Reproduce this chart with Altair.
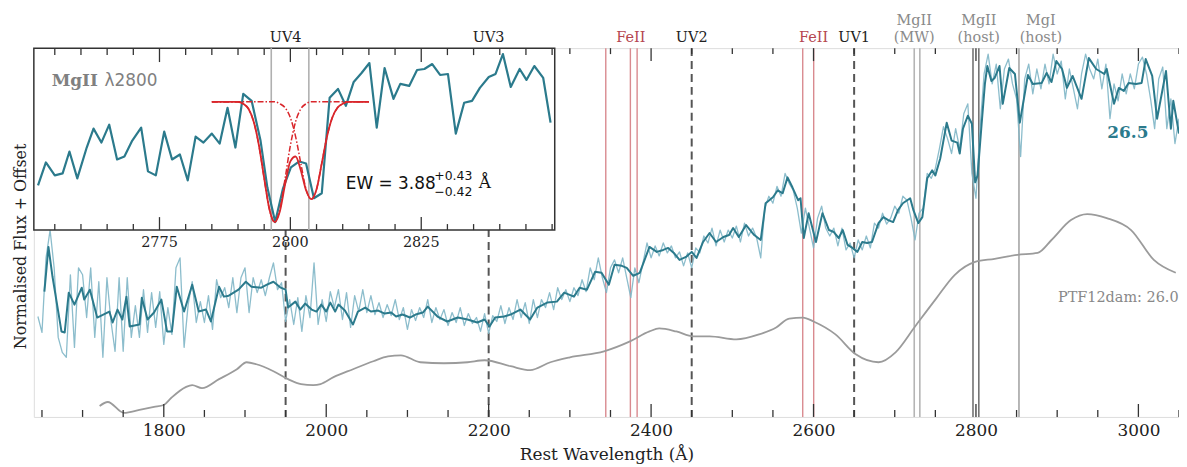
import altair as alt
import pandas as pd

SERIF = "DejaVu Serif"
SANS = "DejaVu Sans"
TEAL = "#2b7a8c"
TEAL_LIGHT = "#80b6c6"
GREY_CURVE = "#9b9b9b"
FRAME = "#333333"
FE_LINE = "#d98a8f"
FE_TEXT = "#b5464f"
MG_TEXT = "#8a8a8a"
FIT_RED = "#d9262b"

# ---------------- data: main spectrum ----------------
raw_start = 1645
raw_step = 5
raw_flux = [
    101, 85, 160, 188, 150, 80, 65, 60, 143, 70,
    150, 143, 100, 150, 80, 136, 60, 140, 96, 66,
    140, 66, 140, 80, 112, 80, 128, 85, 125, 90,
    126, 73, 110, 83, 150, 160, 70, 113, 136, 95,
    116, 95, 122, 88, 138, 120, 130, 110, 140, 105,
    140, 150, 105, 140, 125, 138, 122, 140, 155, 128,
    135, 96, 118, 93, 120, 86, 122, 100, 155, 93,
    118, 96, 126, 110, 128, 98, 125, 90, 122, 106,
    128, 105, 122, 103, 115, 100, 113, 102, 118, 98,
    110, 88, 108, 97, 110, 100, 118, 95, 110, 98,
    108, 92, 105, 95, 110, 92, 104, 94, 100, 86,
    104, 84, 102, 96, 112, 94, 110, 98, 118, 100,
    115, 94, 118, 100, 118, 110, 125, 108, 130, 118,
    128, 116, 130, 122, 138, 126, 150, 138, 160, 140,
    125, 150, 158, 145, 160, 140, 120, 150, 135, 155,
    175, 160, 172, 162, 175, 165, 172, 160, 166, 152,
    165, 150, 170, 165, 182, 175, 190, 172, 188, 176,
    188, 180, 192, 176, 195, 182, 190, 180, 160, 210,
    222, 215, 232, 222, 245, 235, 228, 210, 185, 210,
    190, 170, 200, 212, 190, 182, 190, 172, 190, 168,
    175, 160, 178, 168, 182, 170, 195, 190, 205, 194,
    200, 212, 205, 222, 218, 200, 178, 205, 210, 245,
    240, 250, 270, 292, 280, 265, 290, 270, 305, 315,
    245, 220, 290, 345, 365, 335, 355, 310, 350, 360,
    335, 320, 262, 340, 355, 325, 350, 330, 355, 335,
    365, 345, 358, 320, 350, 330, 310, 345, 365, 350,
    340, 360, 330, 355, 300, 335, 318, 345, 325, 345,
    330, 355, 362, 345, 320, 290, 340, 352, 290, 320, 275, 300,
]

binned_points = [
    (1653, 126), (1658, 171), (1663, 141), (1674, 86), (1678, 85), (1683, 125), (1690, 113),
    (1699, 130), (1702, 118), (1709, 128), (1718, 100), (1733, 106), (1737, 95), (1743, 108),
    (1749, 98), (1754, 121), (1758, 91), (1770, 93), (1773, 120), (1780, 98), (1788, 105),
    (1797, 118), (1804, 86), (1810, 86), (1816, 131), (1825, 106), (1835, 133), (1843, 106),
    (1852, 108), (1858, 96), (1868, 131), (1874, 121), (1880, 122), (1892, 128), (1901, 136),
    (1908, 131), (1920, 130), (1927, 133), (1935, 136), (1944, 130), (1950, 128), (1953, 110),
    (1962, 116), (1968, 108), (1974, 114), (1982, 108), (1988, 106), (1994, 113), (2000, 106),
    (2005, 115), (2011, 106), (2015, 113), (2023, 107), (2033, 93), (2039, 106), (2048, 110),
    (2055, 106), (2064, 107), (2072, 104), (2080, 105), (2086, 101), (2094, 103), (2103, 100),
    (2110, 103), (2119, 105), (2125, 111), (2137, 101), (2149, 96), (2162, 100), (2174, 98),
    (2186, 95), (2195, 98), (2201, 91), (2208, 100), (2219, 101), (2227, 103), (2239, 108),
    (2251, 98), (2260, 110), (2272, 115), (2284, 116), (2293, 125), (2305, 121), (2312, 130),
    (2321, 128), (2331, 146), (2339, 145), (2348, 133), (2355, 153), (2364, 152), (2370, 150),
    (2378, 142), (2386, 145), (2398, 171), (2407, 166), (2415, 168), (2421, 170), (2428, 165),
    (2435, 158), (2443, 161), (2450, 166), (2456, 160), (2464, 176), (2472, 185), (2480, 176),
    (2489, 181), (2496, 183), (2501, 190), (2508, 181), (2517, 193), (2527, 183), (2535, 178),
    (2541, 215), (2550, 221), (2556, 228), (2562, 225), (2568, 241), (2574, 231), (2581, 218),
    (2584, 220), (2588, 180), (2594, 205), (2603, 176), (2611, 205), (2619, 188), (2625, 186),
    (2631, 180), (2636, 188), (2642, 173), (2648, 170), (2654, 166), (2660, 176), (2666, 175),
    (2672, 176), (2680, 195), (2686, 201), (2692, 198), (2698, 196), (2704, 208), (2710, 215),
    (2719, 220), (2723, 208), (2729, 195), (2734, 201), (2740, 240), (2746, 248), (2750, 243),
    (2756, 260), (2764, 296), (2770, 278), (2777, 276), (2780, 265), (2784, 290), (2790, 303),
    (2795, 295), (2799, 236), (2802, 243), (2807, 295), (2811, 335), (2814, 353), (2819, 338),
    (2823, 341), (2829, 353), (2833, 315), (2841, 351), (2848, 345), (2854, 296), (2864, 344),
    (2870, 335), (2881, 336), (2887, 346), (2893, 337), (2899, 358), (2906, 350), (2912, 331),
    (2919, 343), (2930, 320), (2939, 361), (2948, 350), (2958, 345), (2961, 350), (2970, 315),
    (2976, 331), (2982, 328), (2988, 336), (2997, 335), (3004, 336), (3009, 360), (3017, 343),
    (3023, 300), (3034, 348), (3040, 290), (3043, 318), (3050, 285),
]

ptf_points = [
    (1721, 11), (1731, 15), (1751, 4), (1770, 7), (1788, 10), (1800, 12), (1809, 19),
    (1827, 30), (1835, 32), (1847, 29), (1868, 38), (1890, 48), (1902, 55), (1914, 53),
    (1935, 46), (1953, 38), (1969, 33), (1984, 32), (1993, 33), (2009, 40), (2033, 48),
    (2058, 56), (2076, 61), (2092, 62), (2116, 55), (2145, 54), (2174, 55), (2195, 57),
    (2227, 51), (2251, 47), (2276, 55), (2300, 60), (2342, 66), (2374, 76), (2398, 86),
    (2410, 89), (2431, 86), (2452, 81), (2472, 81), (2505, 78), (2533, 83), (2554, 90),
    (2570, 99), (2587, 100), (2600, 96), (2627, 83), (2652, 63), (2680, 55), (2701, 65),
    (2725, 91), (2750, 118), (2774, 143), (2799, 156), (2823, 159), (2851, 163), (2876, 165),
    (2893, 178), (2917, 198), (2937, 204), (2961, 200), (2991, 188), (3019, 158), (3046, 145),
]

# line identifications
uv_lines = [1950, 2200, 2450, 2650]
feii_lines = [2344.2, 2374.5, 2382.8, 2586.7, 2600.2]
mgii_mw_lines = [2724.0, 2730.9]
mgii_host_lines = [2796.35, 2803.53]
mgi_host_lines = [2852.96]

label_text = ["UV4", "UV3", "FeII", "UV2", "FeII", "UV1",
              "(MW)", "MgII", "(host)", "MgII", "(host)", "MgI"]
label_wave = [1950, 2200, 2375, 2450, 2600, 2650,
              2724, 2724, 2803.5, 2803.5, 2880, 2880]
label_row = [0, 0, 0, 0, 0, 0, 0, 1, 0, 1, 0, 1]
label_kind = ["uv", "uv", "fe", "uv", "fe", "uv", "mg", "mg", "mg", "mg", "mg", "mg"]

main_wave_domain = [1640, 3050]
main_flux_domain = [0, 371]
main_major = [1800, 2000, 2200, 2400, 2600, 2800, 3000]
main_minor = [w for w in range(1650, 3051, 50) if w not in main_major]

# ---------------- data: inset (MgII 2800) ----------------
inset_wave = [
    2751.8, 2753.3, 2755.0, 2756.5, 2757.8, 2759.3, 2761.1, 2762.4, 2763.9, 2765.4,
    2766.9, 2768.3, 2769.8, 2771.5, 2772.8, 2774.3, 2775.9, 2777.4, 2778.9, 2780.4,
    2781.9, 2783.4, 2785.0, 2786.5, 2788.0, 2789.5, 2791.0, 2792.6, 2794.3, 2795.6,
    2797.1, 2798.6, 2800.1, 2801.7, 2803.0, 2804.5, 2806.0, 2807.5, 2809.1, 2810.6,
    2812.1, 2813.6, 2815.1, 2816.5, 2818.0, 2819.7, 2821.0, 2822.7, 2824.2, 2825.6,
    2827.1, 2828.6, 2830.1, 2831.6, 2833.2, 2834.7, 2836.2, 2837.9, 2839.2, 2840.6,
    2842.1, 2843.8, 2845.1, 2846.6, 2848.3, 2849.7,
]
inset_flux = [
    45, 68, 55, 57, 79, 52, 83, 102, 88, 106,
    71, 74, 90, 103, 59, 55, 99, 71, 76, 50,
    94, 88, 97, 87, 123, 83, 137, 130, 90, 43,
    8, 42, 63, 69, 67, 32, 37, 133, 142, 125,
    149, 158, 168, 103, 163, 132, 147, 145, 161, 162,
    167, 156, 157, 97, 128, 130, 143, 154, 157, 177,
    144, 162, 151, 165, 153, 108,
]
fit_wave = list(range(2785, 2816))
fit_total = [129, 129, 129, 129, 129, 129, 127, 122, 109, 85, 52, 21, 8, 19, 46, 69,
             74, 60, 40, 31, 41, 67, 94, 113, 123, 127, 129, 129, 129, 129, 129]
fit_comp1 = [129, 129, 129, 129, 129, 129, 127, 122, 109, 85, 52, 21, 8, 21, 52, 85,
             109, 122, 127, 129, 129, 129, 129, 129, 129, 129, 129, 129, 129, 129, 129]
fit_comp2 = [129, 129, 129, 129, 129, 129, 129, 129, 129, 129, 129, 129, 129, 127, 123, 113,
             94, 67, 41, 31, 41, 67, 94, 113, 123, 127, 129, 129, 129, 129, 129]
inset_lines = [2796.35, 2803.53]
inset_wave_domain = [2751, 2850.5]
inset_flux_domain = [0, 183]
inset_major = [2775, 2800, 2825]
inset_minor = [w for w in range(2755, 2851, 5) if w not in inset_major]

# ---------------- layout constants ----------------
W, H = 1152, 371
IN_W, IN_H = 524, 183

XS = alt.Scale(domain=main_wave_domain, nice=False, zero=False)
YS = alt.Scale(domain=main_flux_domain, nice=False, zero=False)
XAX = alt.Axis(title="Rest Wavelength (Å)", values=main_major, format="d", ticks=False,
               domain=False, grid=False, labelFont=SERIF, labelFontSize=17, labelColor="#222",
               labelPadding=6, titleFont=SERIF, titleFontSize=17, titleFontWeight="normal",
               titleColor="#222", titlePadding=8)
YAX = alt.Axis(title="Normalised Flux + Offset", labels=False, ticks=False, domain=False,
               grid=False, titleFont=SERIF, titleFontSize=16, titleFontWeight="normal",
               titleColor="#222", titleX=-13, titleY=199, titleBaseline="middle")


def mx(f):
    return alt.X(f, type="quantitative", scale=XS, axis=XAX)


def my(f):
    return alt.Y(f, type="quantitative", scale=YS, axis=YAX)


IXS = alt.Scale(domain=inset_wave_domain, range=[0, IN_W], nice=False, zero=False)
IYS = alt.Scale(domain=inset_flux_domain, range=[IN_H, 0], nice=False, zero=False)


def ix(f):
    return alt.X(f, type="quantitative", scale=IXS, axis=None)


def iy(f):
    return alt.Y(f, type="quantitative", scale=IYS, axis=None)


# ---------------- tables ----------------
raw_df = pd.DataFrame({"w": [raw_start + raw_step * i for i in range(len(raw_flux))],
                       "f": raw_flux})
bin_df = pd.DataFrame(binned_points, columns=["w", "f"])
ptf_df = pd.DataFrame(ptf_points, columns=["w", "f"])
lab_df = pd.DataFrame({"t": label_text, "w": label_wave, "row": label_row, "kind": label_kind})

# ---------------- main layers ----------------
def vlines(vals, **kw):
    return alt.Chart(pd.DataFrame({"w": vals})).mark_rule(**kw).encode(x=mx("w"))


main_layers = [
    vlines(mgii_mw_lines, color="#b5b5b5", strokeWidth=1.6),
    vlines(mgii_host_lines, color="#6a6a6a", strokeWidth=1.5),
    vlines(mgi_host_lines, color="#a5a5a5", strokeWidth=1.6),
    vlines(feii_lines, color=FE_LINE, strokeWidth=1.4),
    vlines(uv_lines, color="#555555", strokeWidth=2, strokeDash=[8, 5]),
    alt.Chart(ptf_df).mark_line(color=GREY_CURVE, strokeWidth=1.8, interpolate="monotone")
        .encode(x=mx("w"), y=my("f")),
    alt.Chart(raw_df).mark_line(color=TEAL_LIGHT, strokeWidth=1.3, strokeJoin="round",
                                opacity=0.9).encode(x=mx("w"), y=my("f")),
    alt.Chart(bin_df).mark_line(color=TEAL, strokeWidth=2.0, strokeJoin="round")
        .encode(x=mx("w"), y=my("f")),
    alt.Chart(pd.DataFrame({"w": [2987], "f": [286], "t": ["26.5"]}))
        .mark_text(font=SERIF, fontSize=17, fontWeight="bold", color=TEAL)
        .encode(x=mx("w"), y=my("f"), text="t:N"),
    alt.Chart(pd.DataFrame({"w": [2901], "f": [120], "t": ["PTF12dam: 26.0"]}))
        .mark_text(font=SERIF, fontSize=14.5, color="#888888", align="left")
        .encode(x=mx("w"), y=my("f"), text="t:N"),
]

label_color = alt.Color("kind:N", legend=None,
                        scale=alt.Scale(domain=["uv", "fe", "mg"],
                                        range=["#222222", FE_TEXT, MG_TEXT]))
for row, ypix in [(0, -10), (1, -27)]:
    main_layers.append(
        alt.Chart(lab_df).transform_filter(alt.datum.row == row)
        .mark_text(font=SERIF, fontSize=14.5, baseline="middle")
        .encode(x=mx("w"), y=alt.value(ypix), text="t:N", color=label_color)
    )


def ticks(vals, xfn, y0, y1):
    return alt.Chart(pd.DataFrame({"t": vals})).mark_rule(color=FRAME, strokeWidth=1.3) \
        .encode(x=xfn("t"), y=alt.value(y0), y2=alt.value(y1))


main_layers += [
    ticks(main_major, mx, H, H - 13),
    ticks(main_minor, mx, H, H - 7),
    ticks(main_major, mx, 0, 13),
    ticks(main_minor, mx, 0, 6),
]

# ---------------- inset layers ----------------
box_df = pd.DataFrame({"x0": [inset_wave_domain[0]], "x1": [inset_wave_domain[1]],
                       "y0": [inset_flux_domain[0]], "y1": [inset_flux_domain[1]]})
inl_df = pd.DataFrame({"w": inset_lines, "lo": inset_flux_domain[0], "hi": inset_flux_domain[1]})
ins_df = pd.DataFrame({"w": inset_wave, "f": inset_flux})
fitc_df = pd.DataFrame({"w": fit_wave * 2, "f": fit_comp1 + fit_comp2,
                        "c": ["a"] * len(fit_wave) + ["b"] * len(fit_wave)})
fitt_df = pd.DataFrame({"w": fit_wave, "f": fit_total})


def itext(t, w, f, **kw):
    return alt.Chart(pd.DataFrame({"w": [w], "f": [f], "t": [t]})) \
        .mark_text(align="left", baseline="middle", **kw) \
        .encode(x=ix("w"), y=iy("f"), text="t:N")


inset_layers = [
    alt.Chart(box_df).mark_rect(fill="white", stroke=FRAME, strokeWidth=1.5)
        .encode(x=ix("x0"), x2="x1", y=iy("y0"), y2="y1"),
    alt.Chart(inl_df).mark_rule(color="#b0b0b0", strokeWidth=1.6)
        .encode(x=ix("w"), y=iy("lo"), y2="hi"),
    alt.Chart(ins_df).mark_line(color=TEAL, strokeWidth=2.2, strokeJoin="round")
        .encode(x=ix("w"), y=iy("f")),
    alt.Chart(fitc_df).mark_line(color=FIT_RED, strokeWidth=1.5, strokeDash=[6, 2, 1.5, 2],
                                 interpolate="monotone")
        .encode(x=ix("w"), y=iy("f"), detail="c:N"),
    alt.Chart(fitt_df).mark_line(color=FIT_RED, strokeWidth=1.8, interpolate="monotone")
        .encode(x=ix("w"), y=iy("f")),
    itext("MgII", 2754.4, 150, font=SERIF, fontSize=17, fontWeight="bold", color="#808080"),
    itext("λ2800", 2764.5, 150, font=SANS, fontSize=17, color="#808080"),
    itext("EW = 3.88", 2810.6, 46, font=SANS, fontSize=17, color="#111111"),
    itext("+0.43", 2827.5, 54, font=SANS, fontSize=12.5, color="#111111"),
    itext("−0.42", 2827.5, 38, font=SANS, fontSize=12.5, color="#111111"),
    itext("Å", 2836.0, 47, font=SERIF, fontSize=17, color="#111111"),
    ticks(inset_major, ix, IN_H, IN_H - 13),
    ticks(inset_minor, ix, IN_H, IN_H - 6),
    ticks(inset_major, ix, 0, 14),
    ticks(inset_minor, ix, 0, 7),
    alt.Chart(pd.DataFrame({"t": inset_major, "lab": [str(v) for v in inset_major]}))
        .mark_text(font=SERIF, fontSize=14.5, color="#222222", baseline="middle")
        .encode(x=ix("t"), y=alt.value(IN_H + 13), text="lab:N"),
]

main = alt.layer(*main_layers)
inset = alt.layer(*inset_layers)

chart = (
    alt.layer(main, inset)
    .resolve_scale(x="independent", y="independent")
    .properties(width=W, height=H,
                autosize=alt.AutoSizeParams(type="none"),
                padding={"left": 26, "top": 39, "right": 0, "bottom": 49})
    .configure_view(stroke=FRAME, strokeWidth=1.5)
    .configure(background="white")
)

chart.save("out.html", embed_options={"renderer": "svg", "actions": False})
